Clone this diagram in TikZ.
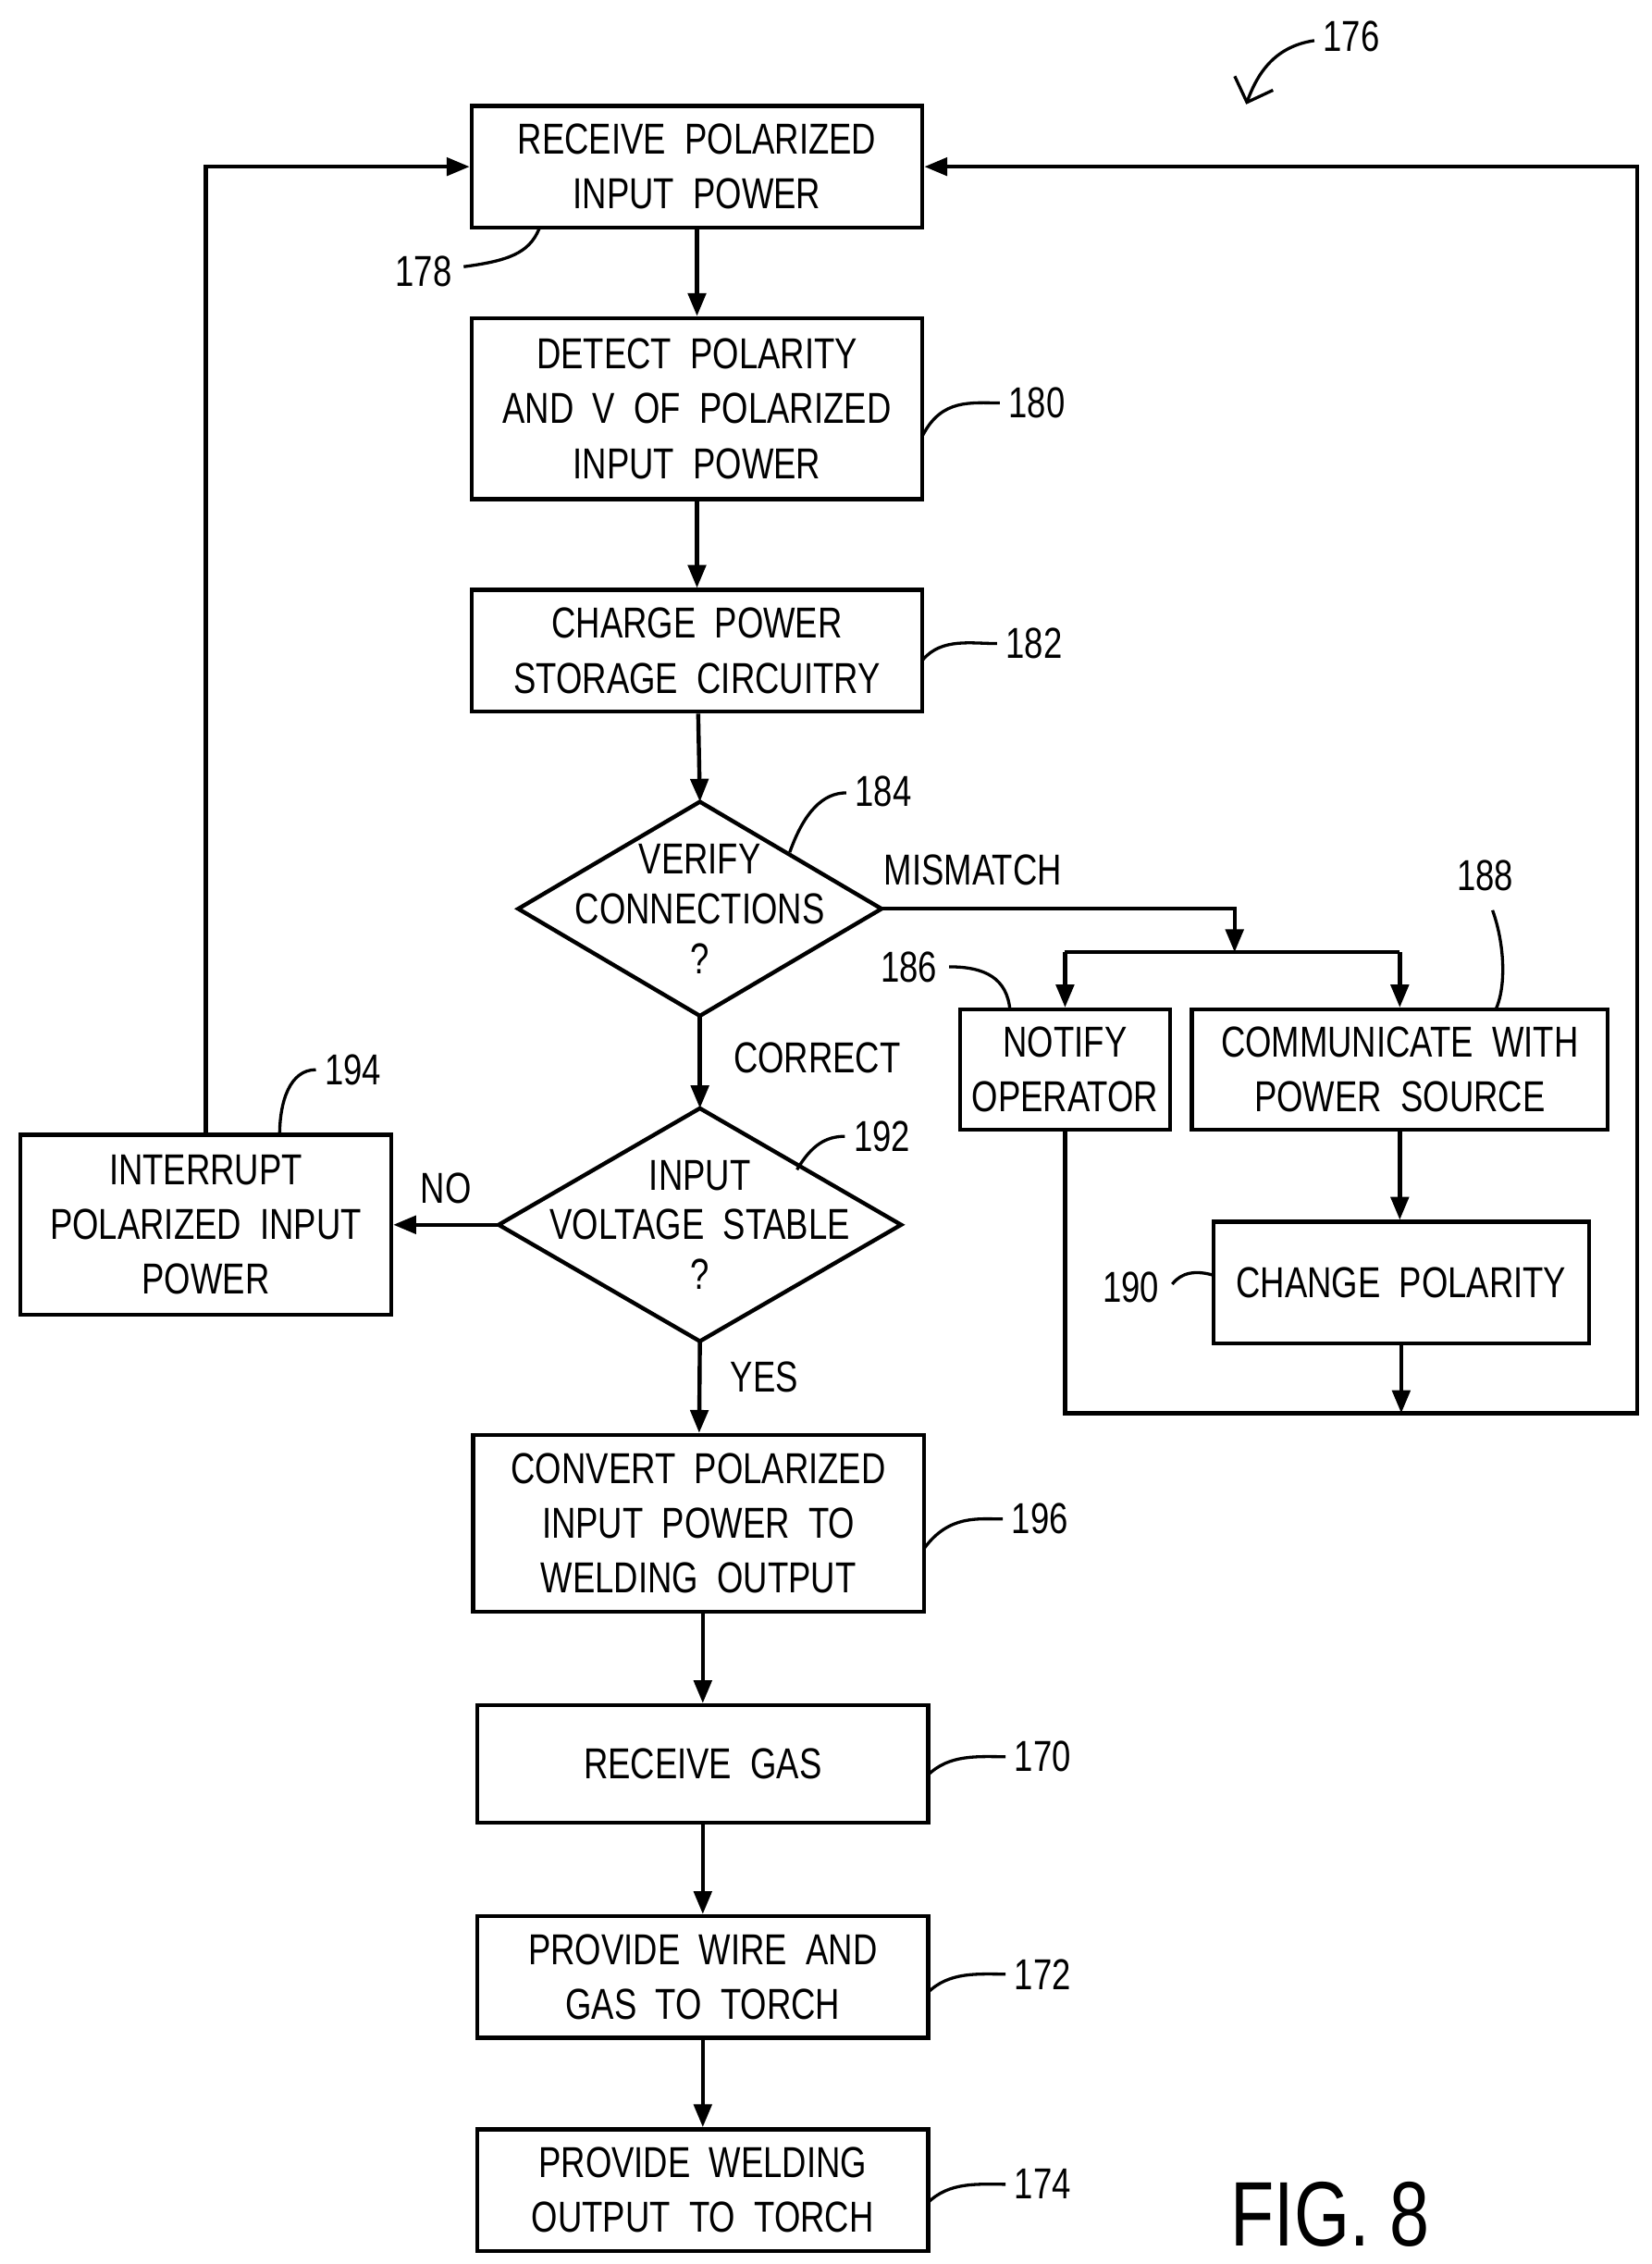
\documentclass[tikz,border=0pt]{standalone}
\usepackage{fontspec}
\setmainfont[FakeStretch=0.78]{Liberation Sans}
\usetikzlibrary{arrows.meta}
\tikzset{
  box/.style={draw,line width=1.6pt,align=center,inner sep=0pt},
  dia/.style={align=center,inner sep=0pt,font=\fontsize{17}{19.5}\selectfont},
  flow/.style={line width=1.6pt,-{Triangle[length=9pt,width=7pt]}},
  wire/.style={line width=1.6pt},
  lead/.style={line width=1.2pt},
  txt/.style={font=\fontsize{17}{21.5}\selectfont}
}
\newcommand{\bx}[5]{\node[box,txt,minimum width=#3*0.02cm,minimum height=#4*0.02cm] (#1) at #2 {#5};}
\newcommand{\dm}[1]{\draw[wire] (#1.north) -- (#1.east) -- (#1.south) -- (#1.west) -- cycle;}
\begin{document}
\begin{tikzpicture}[x=0.02cm,y=-0.02cm,every node/.style={txt}]
\useasboundingbox (0,0) rectangle (1140,1562);
\bx{recv}{(481,115)}{311}{84}{RECEIVE\ \ POLARIZED\\INPUT\ \ POWER}
\bx{detect}{(481,282)}{311}{125}{DETECT\ \ POLARITY\\AND\ \ V\ \ OF\ \ POLARIZED\\INPUT\ \ POWER}
\bx{charge}{(481,449)}{311}{84}{CHARGE\ \ POWER\\STORAGE\ \ CIRCUITRY}
\node[dia,minimum width=250*0.02cm,minimum height=147*0.02cm] (verify) at (483,627) {VERIFY\\CONNECTIONS\\?};
\dm{verify}
\node[dia,minimum width=277*0.02cm,minimum height=160*0.02cm] (stable) at (483,845) {INPUT\\VOLTAGE\ \ STABLE\\?};
\dm{stable}
\bx{interrupt}{(142,845)}{256}{124}{INTERRUPT\\POLARIZED\ \ INPUT\\POWER}
\bx{notify}{(735,738)}{145}{83}{NOTIFY\\OPERATOR}
\bx{comm}{(966,738)}{287}{83}{COMMUNICATE\ \ WITH\\POWER\ \ SOURCE}
\bx{change}{(967,885)}{259}{84}{CHANGE\ \ POLARITY}
\bx{convert}{(482,1051)}{311}{122}{CONVERT\ \ POLARIZED\\INPUT\ \ POWER\ \ TO\\WELDING\ \ OUTPUT}
\bx{gas}{(485,1217)}{311}{81}{RECEIVE\ \ GAS}
\bx{wire}{(485,1364)}{311}{84}{PROVIDE\ \ WIRE\ \ AND\\GAS\ \ TO\ \ TORCH}
\bx{weld}{(485,1511)}{311}{84}{PROVIDE\ \ WELDING\\OUTPUT\ \ TO\ \ TORCH}
\coordinate (split) at (852,657);
\coordinate (join) at (967,975);
% main chain
\draw[flow] (recv) -- (detect);
\draw[flow] (detect) -- (charge);
\draw[flow] (charge) -- (verify.north);
\draw[flow] (verify.south) -- (stable.north);
\node[anchor=west] (correct) at (500,730) {CORRECT};
\draw[flow] (stable.south) -- (convert);
\node[anchor=west] (yes) at (498,950) {YES};
\draw[flow] (convert.south -| gas) -- (gas);
\draw[flow] (gas) -- (wire);
\draw[flow] (wire) -- (weld);
% mismatch branch
\draw[flow] (verify.east) -- (852,627) -- (split);
\node[anchor=west] (mismatch) at (604,600) {MISMATCH};
\draw[wire] (735,657) -- (966,657);
\draw[flow] (735,657) -- (notify);
\draw[flow] (966,657) -- (comm);
\draw[flow] (comm) -- (change.north -| comm);
\draw[flow] (change) -- (join);
\draw[flow] (notify) -- (735,975) -- (1130,975) -- (1130,115) -- (recv);
% interrupt branch
\draw[flow] (stable.west) -- node[above=4pt] {NO} (interrupt);
\draw[flow] (interrupt) -- (142,115) -- (recv);
% reference numerals
\draw[lead,-{Straight Barb[length=8pt]}] (907,28) .. controls (880,32) and (868,50) .. (860,72);
\node[anchor=west] at (907,25) {176};
\draw[lead] (320,184) .. controls (350,180) and (365,175) .. (372,158);
\node[anchor=east] at (318,187) {178};
\draw[lead] (637,300) .. controls (650,275) and (670,278) .. (690,278);
\node[anchor=west] at (690,278) {180};
\draw[lead] (637,455) .. controls (650,440) and (670,444) .. (688,444);
\node[anchor=west] at (688,444) {182};
\draw[lead] (545,588) .. controls (555,560) and (568,547) .. (584,547);
\node[anchor=west] at (584,546) {184};
\draw[lead] (655,667) .. controls (680,667) and (695,675) .. (697,697);
\node[anchor=east] at (653,667) {186};
\draw[lead] (1032,697) .. controls (1040,680) and (1038,650) .. (1030,628);
\node at (1025,604) {188};
\draw[lead] (809,886) .. controls (815,878) and (825,876) .. (838,880);
\node[anchor=east] at (806,888) {190};
\draw[lead] (550,807) .. controls (560,790) and (570,784) .. (583,784);
\node[anchor=west] at (583,784) {192};
\draw[lead] (193,783) .. controls (193,760) and (200,738) .. (218,738);
\node[anchor=west] at (218,738) {194};
\draw[lead] (638,1068) .. controls (655,1045) and (675,1048) .. (692,1048);
\node[anchor=west] at (692,1048) {196};
\draw[lead] (640,1225) .. controls (655,1210) and (675,1212) .. (694,1212);
\node[anchor=west] at (694,1212) {170};
\draw[lead] (640,1375) .. controls (655,1360) and (675,1362) .. (694,1362);
\node[anchor=west] at (694,1362) {172};
\draw[lead] (640,1520) .. controls (655,1505) and (675,1507) .. (694,1507);
\node[anchor=west] at (694,1507) {174};
\node[font=\fontsize{36}{40}\selectfont] (fig) at (918,1528) {FIG.\ 8};
\end{tikzpicture}
\end{document}
